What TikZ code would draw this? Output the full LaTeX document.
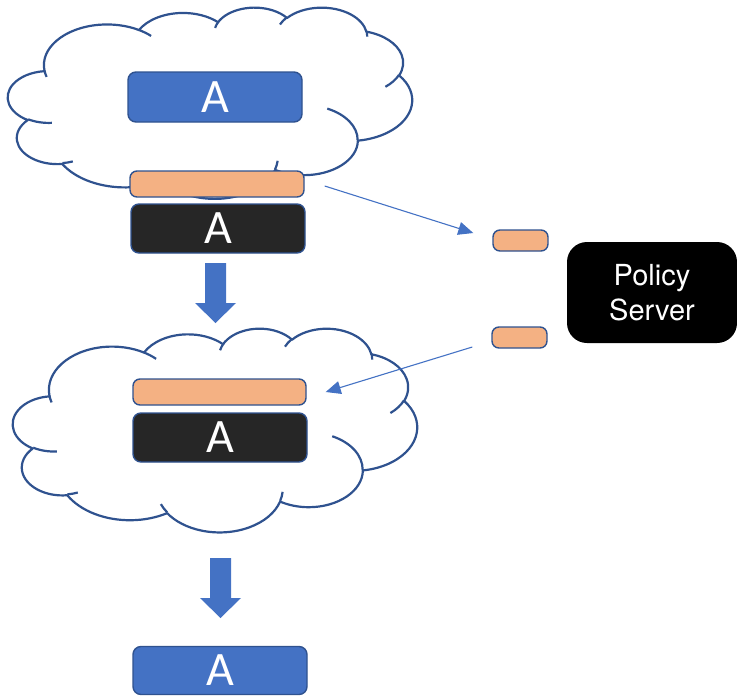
\documentclass[tikz,border=0pt]{standalone}
\usepackage{fontspec}
\setmainfont{Carlito}
\newfontfamily\heros{TeX Gyre Heros}
\usetikzlibrary{arrows.meta}

\definecolor{appblue}{HTML}{4472C4}
\definecolor{edgeblue}{HTML}{2F528F}
\definecolor{tagorange}{HTML}{F4B183}
\definecolor{darkgrey}{HTML}{262626}

% Office-style cloud: arcs given by visual start/sweep angles (degrees),
% converted to the parametric angles that TikZ's elliptical arc expects.
\newcommand\cloudarcangles[4]{%
  \pgfmathsetmacro\cta{atan2((#1)*sin(#3),(#2)*cos(#3))}%
  \pgfmathsetmacro\ctb{atan2((#1)*sin((#3)+(#4)),(#2)*cos((#3)+(#4)))}%
  \pgfmathsetmacro\ctd{\ctb-(\cta)}%
  \pgfmathparse{\ctd<0 ? \ctd+360 : \ctd}\let\ctd\pgfmathresult
  \global\let\cta\cta\global\let\ctd\ctd}
\newcommand\carc[4]{\pgfextra{\cloudarcangles{#1}{#2}{#3}{#4}}
  arc[x radius=#1, y radius=#2, start angle=\cta, delta angle=\ctd]}

% #1,#2: top-left corner; #3,#4: width/43200 and height/43200 (pt)
\newcommand\pptcloud[4]{%
  \begin{scope}[shift={(#1,#2)}, x=#3pt, y=-#4pt]
    \draw[cloudline, fill=white] (3900,14370)
      \carc{6753}{9190}{-190.48748}{123.78053}
      \carc{5333}{7267}{-144.10238}{89.94523}
      \carc{4365}{5945}{-145.80792}{99.72302}
      \carc{4857}{6595}{-130.98607}{117.24173}
      \carc{5333}{7273}{-78.70888}{109.02692}
      \carc{6775}{9220}{-46.26725}{130.269}
      \carc{5785}{7867}{0.62502}{114.03333}
      \carc{6752}{9215}{22.4516}{115.17255}
      \carc{7720}{10543}{66.24263}{75.71102}
      \carc{4360}{5918}{-274.94208}{146.73557}
      \carc{4345}{5945}{-246.8285}{152.51885}
      -- cycle;
    \draw[cloudline]
      (4693,26177) \carc{4345}{5945}{86.742}{26.4295}
      (6928,34899) \carc{4360}{5918}{73.61047}{11.44747}
      (16478,39090) \carc{6752}{9215}{137.62415}{14.0811}
      (28827,34751) \carc{6752}{9215}{6.45327}{15.99835}
      (34129,22954) \carc{5785}{7867}{-70.29235}{70.9174}
      (41798,15354) \carc{5333}{7273}{30.31803}{27.7515}
      (38324,5426) \carc{4857}{6595}{-13.74433}{14.8589}
      (29078,3952) \carc{4857}{6595}{-149.18145}{18.19537}
      (22141,4720) \carc{4365}{5945}{-163.49427}{17.68635}
      (14000,5192) \carc{6753}{9190}{-66.70695}{12.31935}
      (4127,15789) \carc{6753}{9190}{157.65435}{11.85817};
  \end{scope}}

% downward block arrow: #1 = top-centre coordinate name
\newcommand\blockarrow[1]{%
  \fill[appblue] (#1) ++(-10.5,0) -- ++(21,0) -- ++(0,40) -- ++(10,0)
    -- ++(-20.5,20) -- ++(-20.5,-20) -- ++(10,0) -- cycle;}

\begin{document}
\begin{tikzpicture}[x=1pt, y=-1pt,
  cloudline/.style={draw=edgeblue, line width=2.2pt, line join=round},
  appbox/.style={draw=edgeblue, line width=1.4pt, rounded corners=8pt,
    minimum width=174pt, minimum height=49pt, inner sep=0pt,
    text=white, font=\fontsize{48}{48}\selectfont},
  bluebox/.style={appbox, fill=appblue},
  darkbox/.style={appbox, fill=darkgrey},
  tagbar/.style={draw=edgeblue, line width=1.4pt, fill=tagorange,
    rounded corners=7pt, minimum width=174pt, minimum height=26pt, inner sep=0pt},
  tagpill/.style={draw=edgeblue, line width=1.4pt, fill=tagorange,
    rounded corners=7pt, minimum width=55pt, minimum height=21pt, inner sep=0pt},
  serverbox/.style={fill=black, rounded corners=20pt, minimum width=170pt,
    minimum height=101pt, inner sep=0pt, text=white, align=center,
    font=\heros\fontsize{29}{35}\selectfont},
  policyflow/.style={draw=appblue, line width=1.1pt,
    -{Triangle[length=15pt,width=13pt]}}]

\useasboundingbox (0,0) rectangle (737,697);

% clouds
\pptcloud{8}{7}{0.0093519}{0.0044213}
\pptcloud{13}{328}{0.0093519}{0.0047222}

% application boxes and policy tags
\node[bluebox, minimum height=50pt] (atop) at (215,97) {A};
\node[tagbar] (otop) at (217,184) {};
\node[darkbox] (dtop) at (218,228.5) {A};
\node[tagbar, minimum width=173pt] (obot) at (219.5,392) {};
\node[darkbox] (dbot) at (220,437.5) {A};
\node[bluebox, minimum height=48pt] (abot) at (220,670.5) {A};

% policy server and its tags
\node[tagpill] (ptop) at (520.5,240.5) {};
\node[tagpill] (pbot) at (519.5,337.5) {};
\node[serverbox] (server) at (652,292.5) {\raisebox{-2pt}{Policy}\\\raisebox{-2pt}{Server}};

% thin flows
\draw[policyflow] ([xshift=20pt,yshift=-2pt]otop.east) -- ([xshift=-19pt,yshift=7.5pt]ptop.west);
\draw[policyflow] ([xshift=-19pt,yshift=-9.5pt]pbot.west) -- ([xshift=19pt]obot.east);

% block arrows
\coordinate (step1) at (215.5,263);
\coordinate (step2) at (220.5,558);
\blockarrow{step1}
\blockarrow{step2}
\end{tikzpicture}
\end{document}
